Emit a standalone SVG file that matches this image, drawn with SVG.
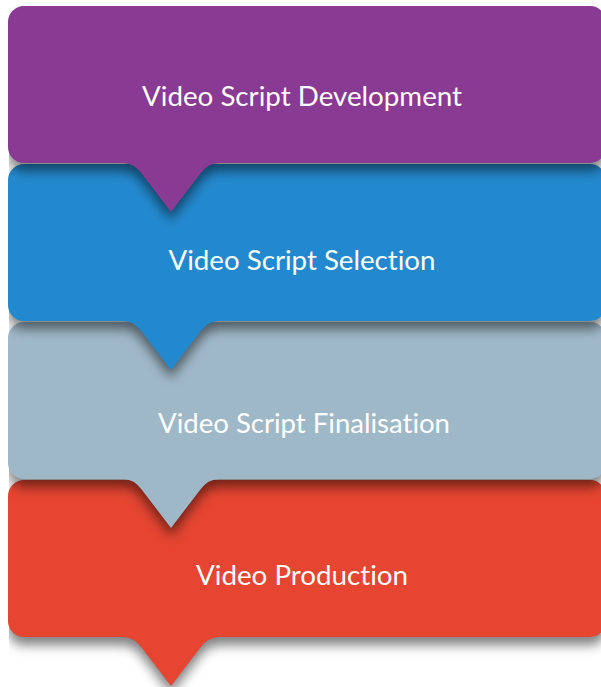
<svg xmlns="http://www.w3.org/2000/svg" width="601" height="687" viewBox="0 0 601 687">
  <style>
    .lbl { font-family: Lato, "Open Sans", "Liberation Sans", sans-serif; font-size: 26px; fill: #ffffff; text-anchor: middle; font-variant-ligatures: none; font-feature-settings: "liga" 0, "clig" 0; }
  </style>
  <defs>
    <path id="shape" d="M 24 0 H 590 A 16 16 0 0 1 606 16 V 141 A 16 16 0 0 1 590 157 H 219 Q 208 157 200 168 L 171 206 L 142 168 Q 134 157 123 157 H 24 A 16 16 0 0 1 8 141 V 16 A 16 16 0 0 1 24 0 Z"/>
    <filter id="blur" x="-10%" y="-20%" width="120%" height="160%">
      <feGaussianBlur stdDeviation="6"/>
    </filter>
    <clipPath id="shclip">
      <rect x="9" y="0" width="592" height="240"/>
    </clipPath>
  </defs>

  <g id="step4" transform="translate(0,480)">
    <g clip-path="url(#shclip)">
      <use href="#shape" transform="translate(0,8)" fill="#000" fill-opacity="0.5" filter="url(#blur)"/>
    </g>
    <use href="#shape" fill="#E54531"/>
    <text class="lbl" x="302" y="105" textLength="212" lengthAdjust="spacingAndGlyphs">Video Production</text>
  </g>

  <g id="step3" transform="translate(0,322)">
    <g clip-path="url(#shclip)">
      <use href="#shape" transform="translate(0,8)" fill="#000" fill-opacity="0.5" filter="url(#blur)"/>
    </g>
    <use href="#shape" fill="#9FB8C8"/>
    <text class="lbl" x="304" y="111" textLength="292" lengthAdjust="spacingAndGlyphs">Video Script Finalisation</text>
  </g>

  <g id="step2" transform="translate(0,164)">
    <g clip-path="url(#shclip)">
      <use href="#shape" transform="translate(0,8)" fill="#000" fill-opacity="0.5" filter="url(#blur)"/>
    </g>
    <use href="#shape" fill="#2389CE"/>
    <text class="lbl" x="302" y="106" textLength="267" lengthAdjust="spacingAndGlyphs">Video Script Selection</text>
  </g>

  <g id="step1" transform="translate(0,6)">
    <g clip-path="url(#shclip)">
      <use href="#shape" transform="translate(0,8)" fill="#000" fill-opacity="0.5" filter="url(#blur)"/>
    </g>
    <use href="#shape" fill="#893A93"/>
    <text class="lbl" x="302" y="100" textLength="320" lengthAdjust="spacingAndGlyphs">Video Script Development</text>
  </g>

  <g id="connectors"/>
</svg>
